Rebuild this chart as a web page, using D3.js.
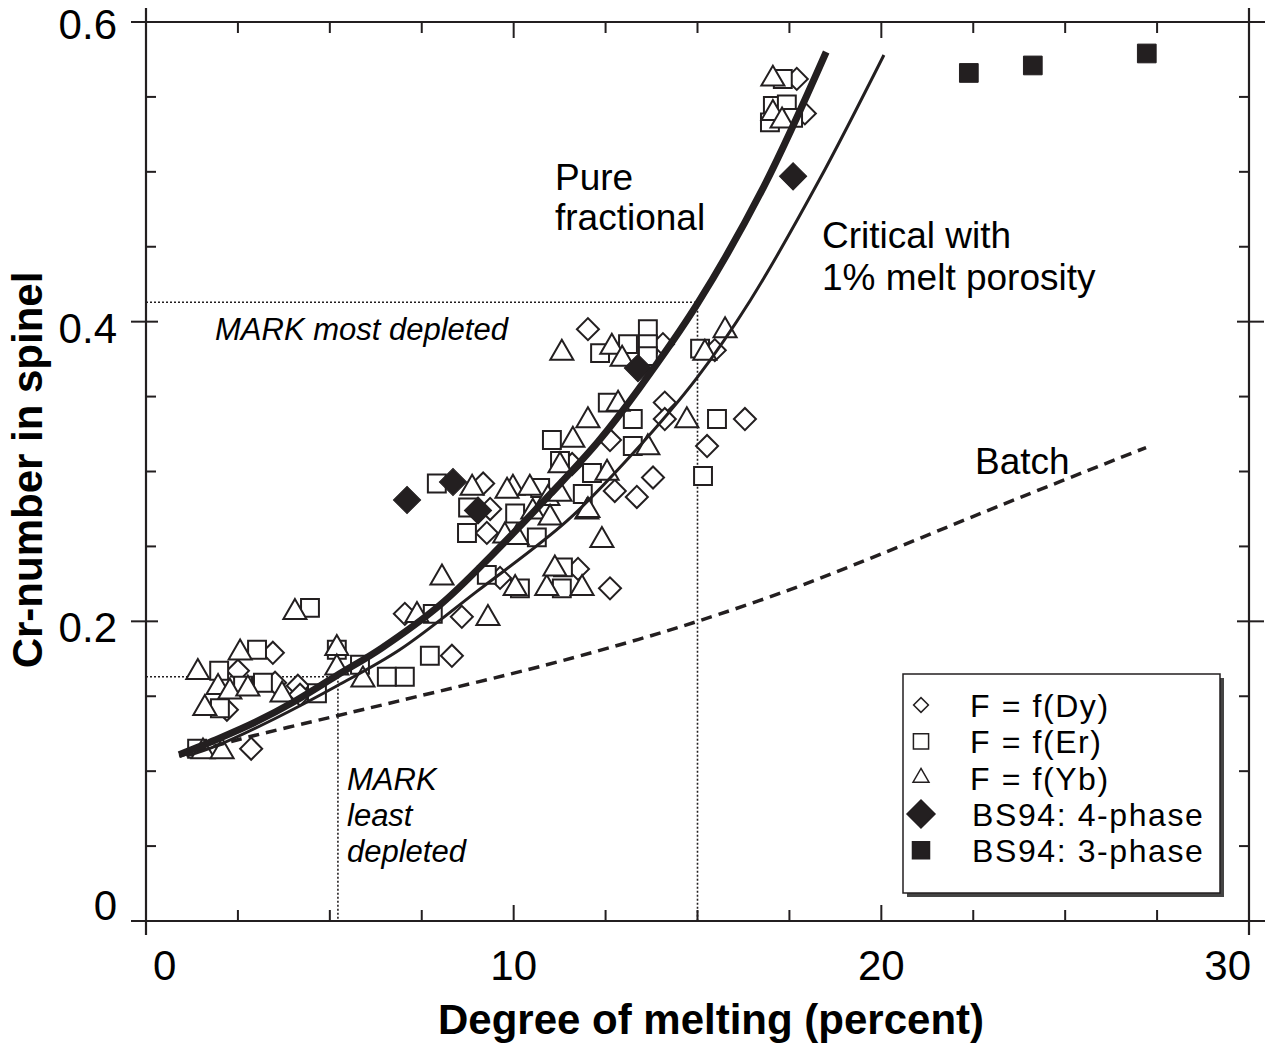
<!DOCTYPE html>
<html lang="en">
<head>
<meta charset="utf-8">
<title>Cr-number in spinel</title>
<script src="https://cdn.jsdelivr.net/npm/d3@7"></script>
<style>
  body { margin: 0; background: #fff; }
  text { font-family: "Liberation Sans", Arial, sans-serif; fill: #000; }
</style>
</head>
<body>
<svg id="chart" width="1266" height="1044"></svg>
<script type="text/javascript">

// F = f(Dy)  -- open diamonds
var dyPts = [
  [2.86,0.115],[2.50,0.167],[3.45,0.179],[3.51,0.159],[4.13,0.157],[4.19,0.151],[2.20,0.141],
  [7.04,0.205],[8.59,0.203],[9.63,0.229],[11.75,0.235],[12.62,0.222],[9.17,0.292],[9.36,0.275],
  [9.27,0.259],[11.59,0.305],[12.75,0.287],[12.62,0.321],[13.35,0.283],[12.02,0.395],[14.06,0.385],
  [15.47,0.381],[14.11,0.346],[14.11,0.335],[16.29,0.335],[15.26,0.317],[13.79,0.296],
  [17.70,0.562],[17.92,0.539],[8.32,0.177]
];
// F = f(Er)  -- open squares
var erPts = [
  [1.39,0.115],[1.99,0.167],[3.02,0.181],[2.64,0.157],[3.18,0.159],[4.65,0.152],[2.01,0.142],
  [5.19,0.181],[5.82,0.171],[6.55,0.163],[7.04,0.163],[7.72,0.177],[4.46,0.209],[7.80,0.205],
  [9.27,0.231],[10.17,0.222],[11.31,0.222],[11.34,0.236],[7.91,0.292],[8.76,0.276],[8.73,0.259],
  [10.04,0.272],[10.63,0.256],[10.72,0.289],[11.26,0.307],[11.88,0.285],[12.13,0.299],[11.04,0.321],
  [13.24,0.317],[12.35,0.379],[13.11,0.385],[13.65,0.395],[13.65,0.385],[13.65,0.377],[15.07,0.382],
  [12.56,0.346],[13.24,0.335],[15.53,0.335],[15.15,0.297],[17.32,0.562],[17.05,0.544],[17.43,0.545],
  [16.97,0.533],[17.60,0.536]
];
// F = f(Yb)  -- open triangles
var ybPts = [
  [1.55,0.113],[2.07,0.113],[1.41,0.166],[2.56,0.179],[1.96,0.156],[2.28,0.153],[2.77,0.155],
  [3.70,0.151],[1.60,0.142],[5.19,0.182],[5.19,0.169],[5.90,0.161],[4.05,0.206],[7.37,0.204],
  [9.30,0.202],[8.05,0.229],[10.04,0.222],[10.90,0.222],[11.86,0.222],[11.12,0.235],[8.87,0.289],
  [9.76,0.257],[10.09,0.256],[10.52,0.273],[9.98,0.289],[10.44,0.289],[10.93,0.282],[11.26,0.285],
  [10.99,0.269],[11.26,0.304],[11.99,0.273],[12.40,0.254],[12.54,0.299],[11.61,0.321],[11.31,0.379],
  [12.67,0.383],[12.95,0.375],[15.20,0.379],[15.75,0.394],[12.84,0.345],[14.71,0.334],[12.02,0.334],
  [13.65,0.316],[12.02,0.274],[17.05,0.562],[17.05,0.539],[17.30,0.534],[9.82,0.287]
];
// BS94 results
var bs4Pts = [[7.10,0.281],[8.35,0.293],[9.03,0.274],[13.38,0.369],[17.60,0.497]];
var bs3Pts = [[22.38,0.566],[24.12,0.571],[27.22,0.579]];

// model curves
var fracCurve = [[0.9,0.111],[2,0.122],[3,0.133],[4,0.146],[5.2,0.164],[6.4,0.182],[8,0.211],
  [9.4,0.244],[11,0.285],[12.3,0.32],[13.4,0.355],[15,0.412],[16.8,0.49],[18.5,0.58]];
var critCurve = [[1.1,0.11],[1.93,0.117],[3.5,0.135],[5.2,0.157],[6.9,0.181],[9,0.22],
  [11.45,0.267],[13.24,0.312],[15,0.363],[16.43,0.414],[18.3,0.494],[20.07,0.578]];
var batchCurve = [[0.9,0.11],[2.5,0.121],[5.2,0.137],[6.9,0.147],[10.9,0.171],[13.4,0.188],
  [15,0.2],[17.5,0.221],[20,0.245],[23.2,0.277],[27.2,0.316]];

// MARK guide lines
var mostDepleted = [[0,0.413],[15,0.413],[15,0]];
var leastDepleted = [[0,0.163],[5.22,0.163],[5.22,0]];

var xMajor = [0, 10, 20, 30];
var yMajor = [0, 0.2, 0.4, 0.6];
var yLabels = ["0", "0.2", "0.4", "0.6"];

var legendItems = ["F = f(Dy)", "F = f(Er)", "F = f(Yb)", "BS94: 4-phase", "BS94: 3-phase"];

var ink = "#231f20";
var svg = d3.select("#chart");

var x = d3.scaleLinear().domain([0, 30]).range([146, 1249]);
var y = d3.scaleLinear().domain([0, 0.6]).range([921, 22]);

// frame
var frame = svg.append("g").attr("stroke", ink).attr("stroke-width", 2.2);
frame.append("line").attr("x1", 131).attr("x2", 1265).attr("y1", y(0)).attr("y2", y(0));
frame.append("line").attr("x1", 131).attr("x2", 1265).attr("y1", y(0.6)).attr("y2", y(0.6));
frame.append("line").attr("x1", x(0)).attr("x2", x(0)).attr("y1", 8).attr("y2", 935);
frame.append("line").attr("x1", x(30)).attr("x2", x(30)).attr("y1", 8).attr("y2", 935);

// ticks
var ticks = svg.append("g").attr("stroke", ink).attr("stroke-width", 2);
d3.range(0, 30.01, 2.5).forEach(function(v) {
  var len = (v % 10 === 0) ? 16 : 11;
  ticks.append("line").attr("x1", x(v)).attr("x2", x(v)).attr("y1", y(0)).attr("y2", y(0) - len);
  ticks.append("line").attr("x1", x(v)).attr("x2", x(v)).attr("y1", y(0.6)).attr("y2", y(0.6) + len);
});
d3.range(0, 0.601, 0.05).forEach(function(v) {
  var major = yMajor.some(function(m) { return Math.abs(m - v) < 1e-6; });
  ticks.append("line").attr("x1", x(0) - (major ? 15 : 0)).attr("x2", x(0) + (major ? 12 : 10))
    .attr("y1", y(v)).attr("y2", y(v));
  ticks.append("line").attr("x1", x(30) + (major ? 15 : 0)).attr("x2", x(30) - (major ? 12 : 10))
    .attr("y1", y(v)).attr("y2", y(v));
});

// tick labels
svg.append("g").selectAll("text").data(xMajor).enter().append("text")
  .attr("x", function(d) { return d === 0 ? x(d) + 7 : (d === 30 ? x(d) + 2 : x(d)); })
  .attr("y", 980)
  .attr("text-anchor", function(d) { return d === 0 ? "start" : (d === 30 ? "end" : "middle"); })
  .style("font-size", "42px")
  .text(function(d) { return d; });

svg.append("g").selectAll("text").data(yMajor).enter().append("text")
  .attr("x", 117)
  .attr("y", function(d) {
    if (d === 0) return y(d) - 1;
    if (d === 0.6) return y(d) + 17;
    return y(d) + 21;
  })
  .attr("text-anchor", "end")
  .style("font-size", "42px")
  .text(function(d, i) { return yLabels[i]; });

// axis titles
svg.append("text").attr("x", 711).attr("y", 1034).attr("text-anchor", "middle")
  .style("font-size", "42px").style("font-weight", "bold")
  .text("Degree of melting (percent)");
svg.append("text").attr("transform", "translate(42,470) rotate(-90)").attr("text-anchor", "middle")
  .style("font-size", "42px").style("font-weight", "bold")
  .text("Cr-number in spinel");

// guide lines
var line = d3.line().x(function(d) { return x(d[0]); }).y(function(d) { return y(d[1]); });
[mostDepleted, leastDepleted].forEach(function(g) {
  svg.append("path").attr("d", line(g)).attr("fill", "none")
    .attr("stroke", ink).attr("stroke-width", 1.6).attr("stroke-dasharray", "2,2");
});

// scatter
function drawPts(pts, type, size, filled, rot) {
  var sym = d3.symbol().type(type).size(size);
  svg.append("g").selectAll("path").data(pts).enter().append("path")
    .attr("d", sym)
    .attr("transform", function(d) { return "translate(" + x(d[0]) + "," + y(d[1]) + ") rotate(" + rot + ")"; })
    .attr("fill", filled ? ink : "#fff")
    .attr("stroke", ink)
    .attr("stroke-width", filled ? 1 : 2);
}
drawPts(dyPts, d3.symbolSquare, 243, false, 45);
drawPts(erPts, d3.symbolSquare, 320, false, 0);
drawPts(ybPts, d3.symbolTriangle, 230, false, 0);
drawPts(bs4Pts, d3.symbolSquare, 370, true, 45);
drawPts(bs3Pts, d3.symbolSquare, 350, true, 0);

// model curves
var smooth = d3.line().curve(d3.curveCatmullRom.alpha(0.5))
  .x(function(d) { return x(d[0]); }).y(function(d) { return y(d[1]); });
svg.append("path").attr("d", smooth(batchCurve)).attr("fill", "none")
  .attr("stroke", ink).attr("stroke-width", 3.5).attr("stroke-dasharray", "11,7");
svg.append("path").attr("d", smooth(critCurve)).attr("fill", "none")
  .attr("stroke", ink).attr("stroke-width", 3);
svg.append("path").attr("d", smooth(fracCurve)).attr("fill", "none")
  .attr("stroke", ink).attr("stroke-width", 7);

// curve labels
function label(lines, x0, y0, dy, size, italic) {
  var t = svg.append("text").attr("x", x0).attr("y", y0).style("font-size", size + "px");
  if (italic) t.style("font-style", "italic");
  lines.forEach(function(s, i) {
    t.append("tspan").attr("x", x0).attr("y", y0 + i * dy).text(s);
  });
}
label(["Pure", "fractional"], 555, 190, 40, 37, false);
label(["Critical with", "1% melt porosity"], 822, 248, 42, 37, false);
label(["Batch"], 975, 474, 0, 37, false);
label(["MARK most depleted"], 215, 340, 0, 31, true);
label(["MARK", "least", "depleted"], 347, 790, 36, 31, true);

// legend
var lg = svg.append("g");
lg.append("rect").attr("x", 907).attr("y", 678).attr("width", 317).attr("height", 219).attr("fill", "#444");
lg.append("rect").attr("x", 903).attr("y", 674).attr("width", 317).attr("height", 219)
  .attr("fill", "#fff").attr("stroke", ink).attr("stroke-width", 1.5);
var legSyms = [
  {type: d3.symbolSquare, size: 110, filled: false, rot: 45},
  {type: d3.symbolSquare, size: 230, filled: false, rot: 0},
  {type: d3.symbolTriangle, size: 110, filled: false, rot: 0},
  {type: d3.symbolSquare, size: 390, filled: true, rot: 45},
  {type: d3.symbolSquare, size: 290, filled: true, rot: 0}
];
legendItems.forEach(function(s, i) {
  var cy = 705 + i * 36.3;
  var m = legSyms[i];
  lg.append("path").attr("d", d3.symbol().type(m.type).size(m.size))
    .attr("transform", "translate(921," + cy + ") rotate(" + m.rot + ")")
    .attr("fill", m.filled ? ink : "#fff").attr("stroke", ink).attr("stroke-width", 1.5);
  lg.append("text").attr("x", s.indexOf("BS94") === 0 ? 972 : 970).attr("y", cy + 12)
    .style("font-size", "32px").style("letter-spacing", "1.6px").text(s);
});

</script>
</body>
</html>
